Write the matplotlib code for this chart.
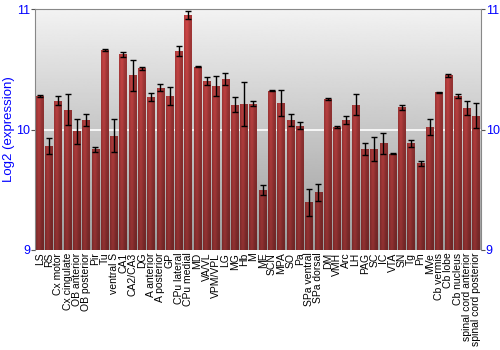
import numpy as np
import matplotlib.pyplot as plt

regions = ["LS", "RS", "Cx motor", "Cx cingulate", "OB anterior", "OB posterior",
           "Pir", "Tu", "ventral S", "CA1", "CA2/CA3", "DG", "A anterior",
           "A posterior", "GP", "CPu lateral", "CPu medial", "MD", "VA/VL",
           "VPM/VPL", "LG", "MG", "Hb", "M", "ME", "SCN", "MPA", "SO", "Pa",
           "SPa ventral", "SPa dorsal", "DM", "VMH", "Arc", "LH", "PAG", "SC",
           "IC", "VTA", "SN", "Tg", "Pn", "MVe", "Cb vermis", "Cb lobe",
           "Cb nucleus", "spinal cord anterior", "spinal cord posterior"]

expr = [10.28, 9.86, 10.24, 10.165, 9.985, 10.075, 9.835, 10.66, 9.95, 10.625,
        10.45, 10.51, 10.27, 10.347, 10.28, 10.653, 10.95, 10.523, 10.40, 10.364,
        10.42, 10.207, 10.212, 10.215, 9.50, 10.32, 10.22, 10.08, 10.033, 9.394,
        9.477, 10.254, 10.019, 10.077, 10.207, 9.84, 9.835, 9.884, 9.799, 10.184,
        9.884, 9.719, 10.02, 10.31, 10.449, 10.275, 10.179, 10.116]

err = [0.008, 0.066, 0.037, 0.13, 0.106, 0.05, 0.02, 0.01, 0.136, 0.022,
       0.13, 0.012, 0.03, 0.03, 0.075, 0.044, 0.036, 0.005, 0.033, 0.083,
       0.051, 0.063, 0.18, 0.02, 0.043, 0.004, 0.109, 0.048, 0.028, 0.113,
       0.069, 0.008, 0.007, 0.032, 0.088, 0.052, 0.099, 0.09, 0.005, 0.018,
       0.028, 0.023, 0.066, 0.004, 0.012, 0.017, 0.059, 0.10]

plt.rcParams["font.family"] = ["Liberation Sans", "DejaVu Sans"]

fig = plt.figure(figsize=(5, 3.5), dpi=100)
ax = fig.add_axes([0.07, 0.286, 0.892, 0.688])

x = np.arange(len(regions))
ymin, ymax = 9, 11

# grey gradient background
bg = np.linspace(0.61, 0.95, 256).reshape(-1, 1)
ax.imshow(bg, extent=[0, 1, 0, 1], transform=ax.transAxes, cmap="gray",
          vmin=0, vmax=1, origin="lower", aspect="auto", zorder=0)
ax.axhline(10, color="white", lw=1.2, zorder=1)

# bar shading image
hx = np.linspace(0, 1, 32)
hprof = 0.78 + 0.22 * np.exp(-((hx - 0.35) / 0.3) ** 2)
vprof = np.linspace(0.68, 1.0, 64).reshape(-1, 1)
base = np.array([0.82, 0.28, 0.28])
shade = (vprof[:, :, None] * hprof[None, :, None]) * base[None, None, :]
shade = np.clip(shade, 0, 1)

w = 0.83
bars = ax.bar(x, np.array(expr) - ymin, bottom=ymin, width=w,
              color="#b83a3a", edgecolor="none", zorder=2)
for b in bars:
    im = ax.imshow(shade, extent=[b.get_x(), b.get_x() + w, ymin, ymax],
                   origin="lower", aspect="auto", zorder=2.5)
    im.set_clip_path(b)

ax.errorbar(x, expr, yerr=err, fmt="none", ecolor="black", elinewidth=1,
            capsize=2, capthick=1, zorder=4)

ax.set_xlim(-0.5, len(regions) - 0.5)
ax.set_ylim(ymin, ymax)
ax.set_yticks([9, 10, 11])
ax.tick_params(axis="y", colors="#555555", labelcolor="blue", labelsize=9,
               length=3, right=True, labelright=True, pad=0.5)
ax.set_xticks(x)
ax.set_xticklabels(regions, rotation=90, fontsize=7.5, va="top", ha="center")
ax.tick_params(axis="x", length=0, pad=2)
ax.set_ylabel("Log2 (expression)", color="blue", fontsize=9.5)
ax.yaxis.set_label_coords(-0.045, 0.5)
for s in ax.spines.values():
    s.set_color("#888888")
ax.spines["bottom"].set_visible(False)

fig.savefig("out.png", dpi=100)
